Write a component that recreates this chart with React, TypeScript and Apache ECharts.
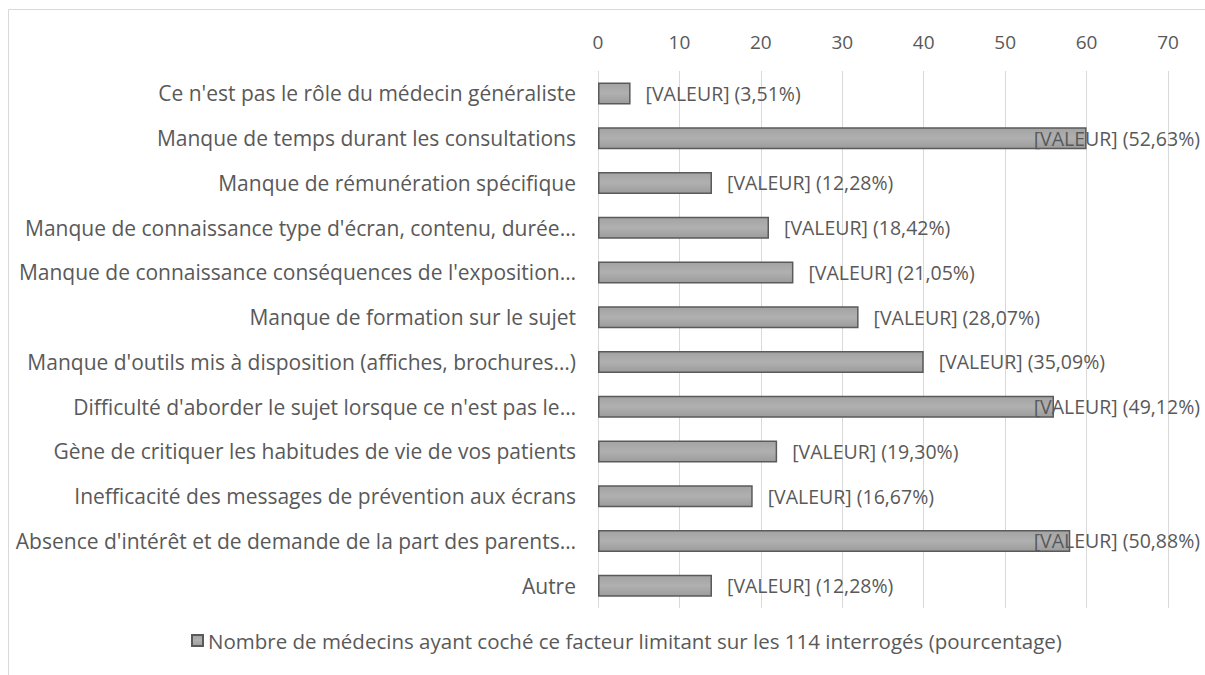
import React, { useEffect, useRef } from "react";
import * as echarts from "echarts";

const categories = [
  "Ce n'est pas le rôle du médecin généraliste",
  "Manque de temps durant les consultations",
  "Manque de rémunération spécifique",
  "Manque de connaissance type d'écran, contenu, durée…",
  "Manque de connaissance conséquences de l'exposition…",
  "Manque de formation sur le sujet",
  "Manque d'outils mis à disposition (affiches, brochures…)",
  "Difficulté d'aborder le sujet lorsque ce n'est pas le…",
  "Gène de critiquer les habitudes de vie de vos patients",
  "Inefficacité des messages de prévention aux écrans",
  "Absence d'intérêt et de demande de la part des parents…",
  "Autre",
];
const counts = [4, 60, 14, 21, 24, 32, 40, 56, 22, 19, 58, 14];
const percents = ["3,51", "52,63", "12,28", "18,42", "21,05", "28,07", "35,09", "49,12", "19,30", "16,67", "50,88", "12,28"];
const seriesName = "Nombre de médecins ayant coché ce facteur limitant sur les 114 interrogés (pourcentage)";
const xMin = 0;
const xMax = 70;
const xInterval = 10;

const FONT = "'Open Sans', sans-serif";
const FS_CAT = 21;
const FS_LEG = 20.5;
const FS_VAL = 19.5;
const FS_TICK = 19;
const TXT = "#595959";

function measure(text: string, size: number): number {
  const c = document.createElement("canvas").getContext("2d");
  if (!c) return text.length * size * 0.5;
  c.font = `${size}px 'Open Sans'`;
  return c.measureText(text).width;
}

export default function App() {
  const ref = useRef<HTMLDivElement>(null);
  useEffect(() => {
    if (!ref.current) return;
    const chart = echarts.init(ref.current, undefined, { renderer: "svg" });
    const gridLeft = 598;
    const gridRight = 37;
    const plotW = 1205 - gridLeft - gridRight;
    const labelRightEdge = 1200;
    const data = counts.map((v, i) => {
      const text = `[VALEUR] (${percents[i]}%)`;
      const w = measure(text, FS_VAL);
      const barEnd = gridLeft + (v / xMax) * plotW;
      const naturalStart = barEnd + 15;
      const shift = naturalStart + w > labelRightEdge ? labelRightEdge - w - naturalStart : 0;
      return {
        value: v,
        label: {
          show: true,
          position: "right" as const,
          distance: 15,
          offset: [shift, 0],
          formatter: text,
        },
      };
    });
    chart.setOption({
      animation: false,
      textStyle: { fontFamily: FONT },
      grid: { left: gridLeft, right: gridRight, top: 71, bottom: 67, containLabel: false },
      graphic: [
        {
          type: "rect",
          shape: { x: 8.5, y: 9.5, width: 1300, height: 800 },
          style: { fill: "none", stroke: "#d9d9d9", lineWidth: 1 },
          silent: true,
        },
      ],
      legend: {
        bottom: 19,
        left: 186,
        itemWidth: 11,
        itemHeight: 11,
        itemGap: 4,
        textStyle: { color: TXT, fontSize: FS_LEG, fontFamily: FONT },
        data: [{ name: seriesName, icon: "rect" }],
      },
      xAxis: {
        type: "value",
        position: "top",
        min: xMin,
        max: xMax,
        interval: xInterval,
        axisLine: { show: false },
        axisTick: { show: false },
        axisLabel: { color: TXT, fontSize: FS_TICK, fontFamily: FONT, margin: 20 },
        splitLine: { show: true, lineStyle: { color: "#d9d9d9", width: 1 } },
      },
      yAxis: {
        type: "category",
        inverse: true,
        data: categories,
        axisLine: { show: false },
        axisTick: { show: false },
        axisLabel: { color: TXT, fontSize: FS_CAT, fontFamily: FONT, margin: 22 },
      },
      series: [
        {
          type: "bar",
          name: seriesName,
          data,
          barWidth: 22,
          itemStyle: {
            color: new echarts.graphic.LinearGradient(0, 0, 0, 1, [
              { offset: 0, color: "#a3a3a3" },
              { offset: 0.5, color: "#b0b0b0" },
              { offset: 1, color: "#9c9c9c" },
            ]),
            borderColor: "#5a5a5a",
            borderWidth: 1.5,
          },
          label: { color: TXT, fontSize: FS_VAL, fontFamily: FONT },
        },
      ],
    });
    return () => chart.dispose();
  }, []);
  return (
    <div
      ref={ref}
      style={{ position: "fixed", left: 0, top: 0, width: 1205, height: 675, background: "#fff" }}
    />
  );
}
